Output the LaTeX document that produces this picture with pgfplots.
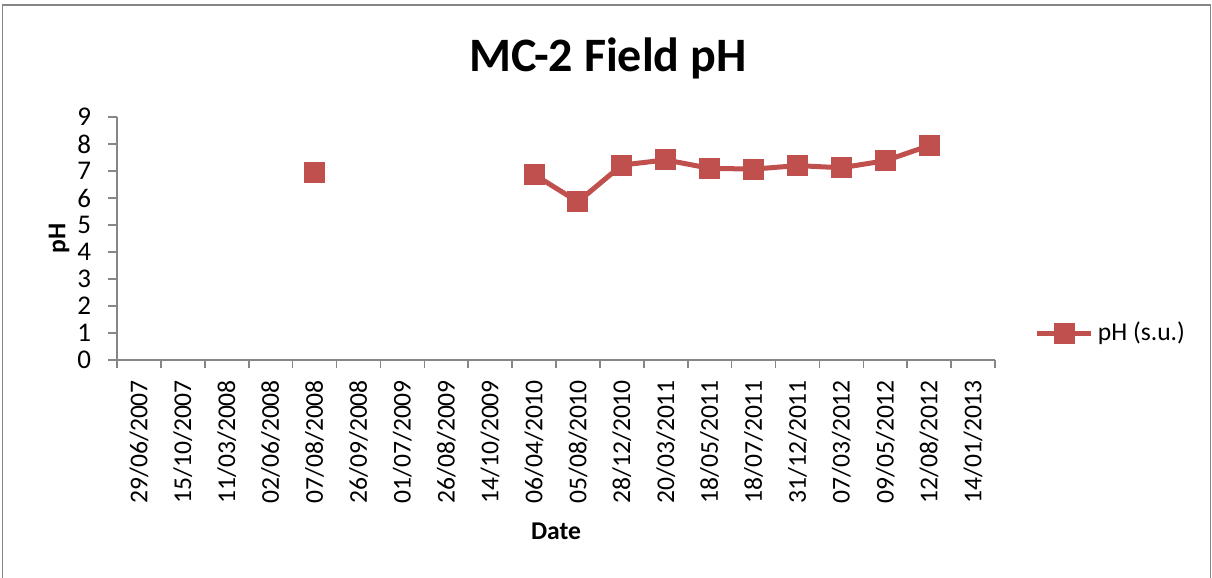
\documentclass[border=0pt]{standalone}
\usepackage{pgfplots}
\pgfplotsset{compat=1.18}
\usepackage{fontspec}
\setmainfont{Carlito}
\definecolor{exred}{HTML}{C0504D}
\definecolor{axgray}{HTML}{868686}
\begin{document}
\begin{tikzpicture}
\useasboundingbox (0pt,0pt) rectangle (606pt,289pt);
\draw[axgray,line width=0.8pt] (1.25pt,0pt) -- (1.25pt,286.5pt) -- (605.25pt,286.5pt) -- (605.25pt,0pt);
\node[font=\fontsize{24}{28}\selectfont\bfseries] at (304pt,260pt) {MC-2 Field pH};
\begin{axis}[
  at={(58.5pt,109pt)}, anchor=south west,
  scale only axis, width=439pt, height=121.5pt,
  xmin=-0.5, xmax=19.5, ymin=0, ymax=9,
  axis lines=left, axis line style={axgray, line width=0.8pt, -},
  xtick={0,...,19},
  xticklabels={29/06/2007,15/10/2007,11/03/2008,02/06/2008,07/08/2008,26/09/2008,01/07/2009,26/08/2009,14/10/2009,06/04/2010,05/08/2010,28/12/2010,20/03/2011,18/05/2011,18/07/2011,31/12/2011,07/03/2012,09/05/2012,12/08/2012,14/01/2013},
  minor xtick={-0.5,0.5,...,19.5},
  major x tick style={draw=none},
  minor x tick style={axgray, line width=0.8pt},
  minor tick length=4pt,
  ytick={0,...,9},
  y tick style={axgray, line width=0.8pt},
  major tick length=4.5pt,
  tick align=outside,
  xticklabel style={rotate=90, anchor=east, font=\fontsize{12.8}{15}\selectfont, xshift=-2pt},
  yticklabel style={font=\fontsize{13.5}{15}\selectfont, xshift=-5pt},
  /pgf/number format/assume math mode=true,
  xlabel={\textbf{Date}}, ylabel={\textbf{pH}},
  xlabel style={font=\fontsize{12.8}{15}\selectfont, yshift=-3pt},
  ylabel style={font=\fontsize{12.8}{15}\selectfont, yshift=-3pt},
  unbounded coords=jump,
  legend style={at={(1.045,0.111)}, anchor=west, draw=none, fill=none, font=\fontsize{12.8}{15}\selectfont, inner sep=0pt},
  legend image code/.code={\draw[mark repeat=2,mark phase=2,#1] plot coordinates {(0pt,0pt) (13.5pt,0pt) (27pt,0pt)};},
]
\addplot[exred, line width=2.5pt, mark=square*, mark size=5pt, mark options={solid, fill=exred, line width=0pt}] coordinates {
(4,6.96) (5,nan) (6,nan) (7,nan) (8,nan)
(9,6.87) (10,5.86) (11,7.22) (12,7.41) (13,7.10) (14,7.07) (15,7.20) (16,7.12) (17,7.38) (18,7.94)
};
\addlegendentry{pH (s.u.)}
\end{axis}
\end{tikzpicture}
\end{document}
